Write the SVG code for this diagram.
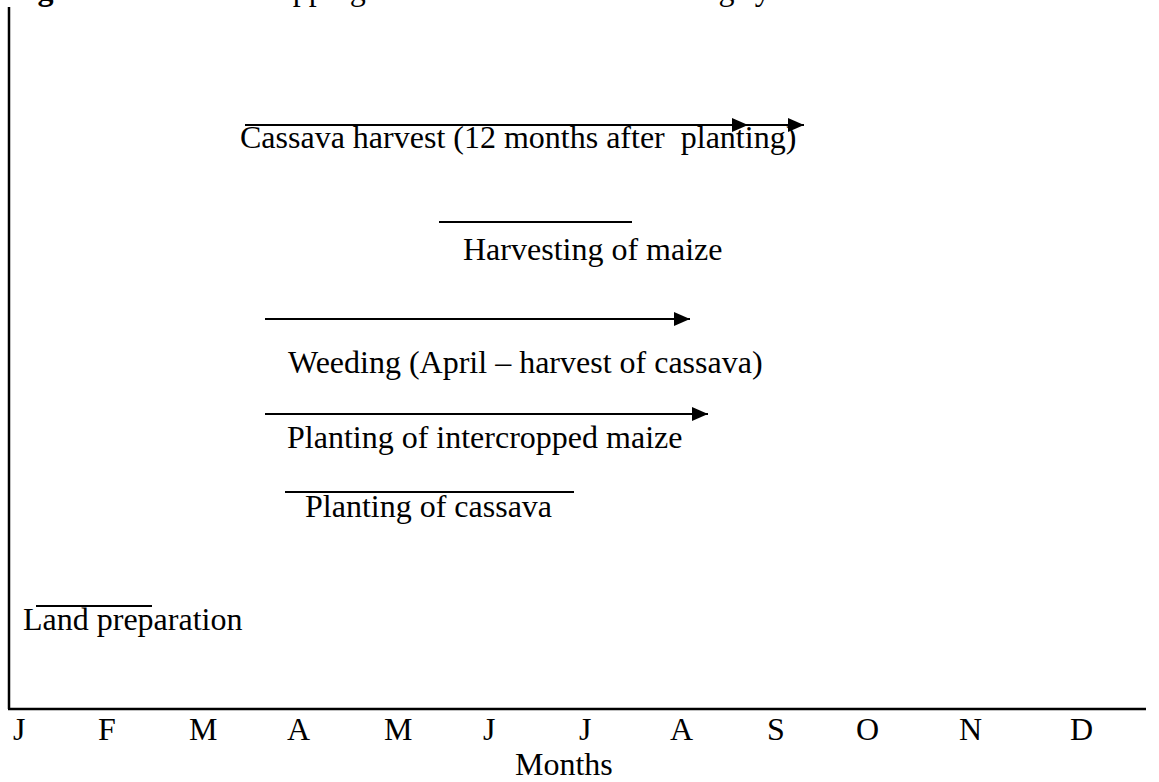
<svg xmlns="http://www.w3.org/2000/svg" width="1159" height="782" viewBox="0 0 1159 782">
  <defs>
    <style>
      text { font-family: "Liberation Serif", "Times New Roman", serif; font-size: 32px; fill: #000; white-space: pre; }
      .ln { stroke: #000; stroke-width: 2; fill: none; }
      .axis { stroke: #000; stroke-width: 2.5; fill: none; }
    </style>
    <marker id="arr" markerUnits="userSpaceOnUse" markerWidth="18" markerHeight="16" refX="16" refY="7" orient="auto">
      <path d="M0,0 L16,7 L0,14 z" fill="#000"/>
    </marker>
  </defs>
  <rect width="1159" height="782" fill="#fff"/>

  <g id="title">
    <text x="9" y="0"><tspan font-weight="bold">Figure 3.</tspan> Cassava cropping calendar in a mixed farming system</text>
  </g>

  <g id="axes">
    <line class="axis" x1="9" y1="7" x2="9" y2="709"/>
    <line class="axis" x1="8" y1="709" x2="1146" y2="709"/>
  </g>

  <g id="connectors">
    <line class="ln" x1="245" y1="125" x2="804" y2="125" marker-end="url(#arr)"/>
    <line class="ln" x1="245" y1="125" x2="748" y2="125" marker-end="url(#arr)"/>
    <line class="ln" x1="439" y1="222" x2="632" y2="222"/>
    <line class="ln" x1="265" y1="319" x2="690" y2="319" marker-end="url(#arr)"/>
    <line class="ln" x1="265" y1="414" x2="708" y2="414" marker-end="url(#arr)"/>
    <line class="ln" x1="285" y1="492" x2="574" y2="492"/>
    <line class="ln" x1="36" y1="606" x2="152" y2="606"/>
  </g>

  <g id="node-cassava-harvest">
    <text x="240" y="148" xml:space="preserve">Cassava harvest (12 months after  planting)</text>
  </g>
  <g id="node-harvesting-maize">
    <text x="463" y="260">Harvesting of maize</text>
  </g>
  <g id="node-weeding">
    <text x="288" y="373">Weeding (April – harvest of cassava)</text>
  </g>
  <g id="node-planting-maize">
    <text x="287" y="448">Planting of intercropped maize</text>
  </g>
  <g id="node-planting-cassava">
    <text x="305" y="517">Planting of cassava</text>
  </g>
  <g id="node-land-preparation">
    <text x="23" y="630">Land preparation</text>
  </g>

  <g id="months">
    <text x="13" y="740">J</text>
    <text x="98" y="740">F</text>
    <text x="189" y="740">M</text>
    <text x="287" y="740">A</text>
    <text x="384" y="740">M</text>
    <text x="483" y="740">J</text>
    <text x="579" y="740">J</text>
    <text x="670" y="740">A</text>
    <text x="767" y="740">S</text>
    <text x="856" y="740">O</text>
    <text x="959" y="740">N</text>
    <text x="1070" y="740">D</text>
    <text x="515" y="775">Months</text>
  </g>
</svg>
